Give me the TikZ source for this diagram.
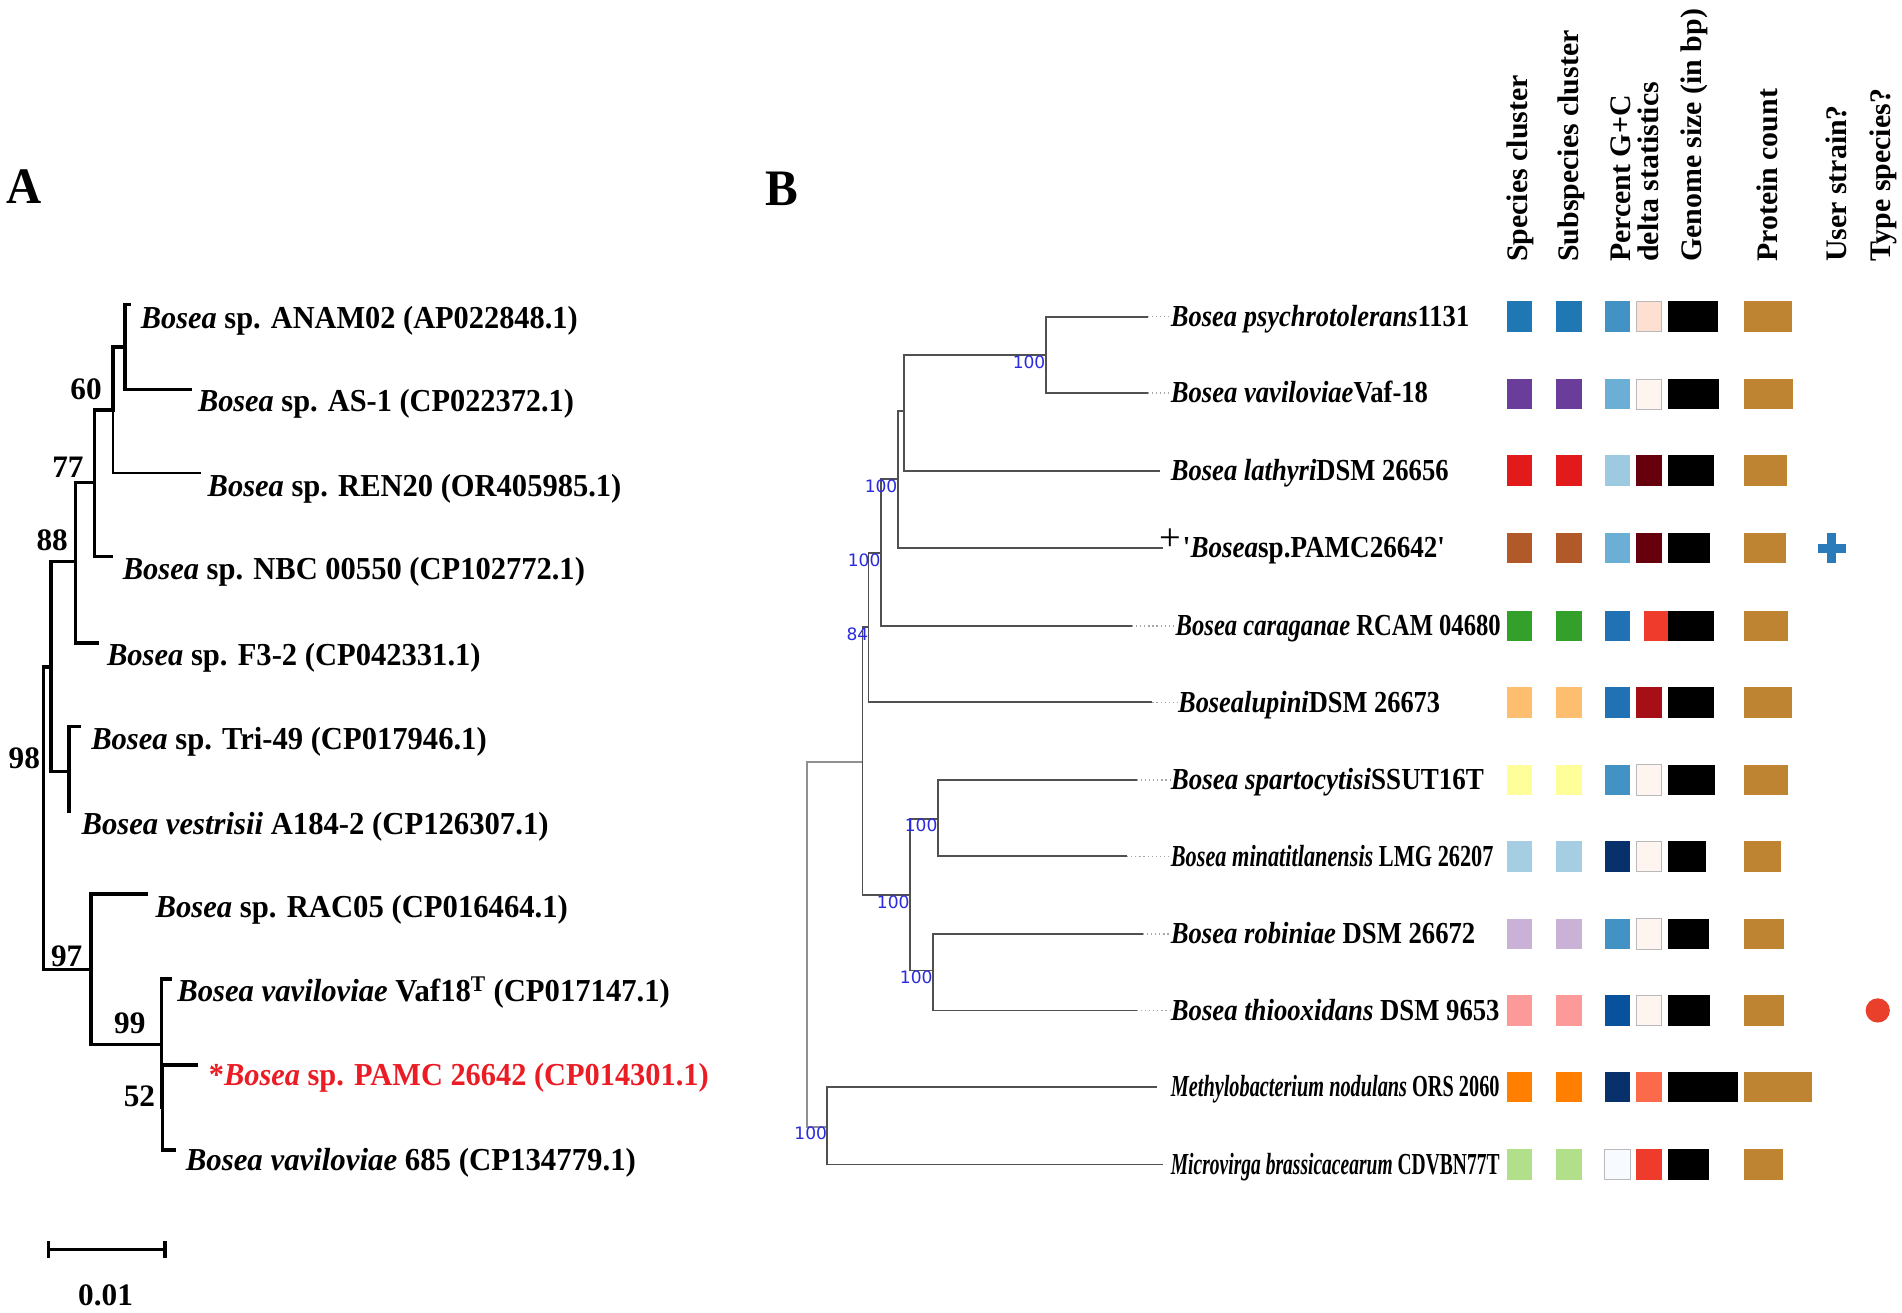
\documentclass[tikz,border=0pt]{standalone}
\usepackage{fontspec}
\setmainfont{Liberation Serif}
\newfontfamily\bootfont{DejaVu Sans}
\usepackage{graphicx}
\newlength\pxu
\setlength\pxu{0.03cm}
\newcommand\fitw[2]{\resizebox{#1\pxu}{\height}{#2}}
\definecolor{pamcred}{HTML}{EB1C24}
\definecolor{bootblue}{HTML}{2A2AE0}
\definecolor{treegray}{HTML}{505050}
\definecolor{rootgray}{HTML}{909090}
\definecolor{protein}{HTML}{BE8431}
\definecolor{plusblue}{HTML}{2B7BBA}
\definecolor{dotred}{HTML}{E8402A}
\definecolor{sp1}{HTML}{1F78B4}\definecolor{sp2}{HTML}{6A3D9A}\definecolor{sp3}{HTML}{E31A1C}
\definecolor{sp4}{HTML}{B15928}\definecolor{sp5}{HTML}{33A02C}\definecolor{sp6}{HTML}{FDBF6F}
\definecolor{sp7}{HTML}{FFFF99}\definecolor{sp8}{HTML}{A6CEE3}\definecolor{sp9}{HTML}{CAB2D6}
\definecolor{sp10}{HTML}{FB9A99}\definecolor{sp11}{HTML}{FF7F00}\definecolor{sp12}{HTML}{B2DF8A}
\definecolor{gcA}{HTML}{4292C6}\definecolor{gcB}{HTML}{6BAED6}\definecolor{gcC}{HTML}{9ECAE1}
\definecolor{gcD}{HTML}{2171B5}\definecolor{gcE}{HTML}{08306B}\definecolor{gcF}{HTML}{08519C}
\definecolor{gcG}{HTML}{F7FBFF}
\definecolor{dlA}{HTML}{FEE0D2}\definecolor{dlB}{HTML}{FFF5F0}\definecolor{dlC}{HTML}{67000D}
\definecolor{dlD}{HTML}{EF3B2C}\definecolor{dlE}{HTML}{A50F15}\definecolor{dlF}{HTML}{FB6A4A}
\newcommand\cbox[4]{\fill[#1] (#2,#4-12.5) rectangle (#3,#4+12.5);}
\newcommand\cboxb[4]{\filldraw[fill=#1,draw=gray!55,line width=0.8pt] (#2,#4-12.5) rectangle (#3,#4+12.5);}
\newcommand\rowboxes[7]{%
  \cbox{#2}{1242}{1263}{#1}\cbox{#2}{1283}{1304}{#1}%
  \cbox{#3}{1323}{1344}{#1}%
  \cbox{black}{1375}{#5}{#1}\cbox{protein}{1438}{#6}{#1}}
\begin{document}
\begin{tikzpicture}[x=0.03cm,y=-0.03cm,
  treeA/.style={line width=2.4pt,line join=miter,line cap=rect},
  treeB/.style={line width=1.3pt,draw=treegray},
  labA/.style={font=\fontsize{22.5}{26}\selectfont\bfseries,inner sep=0pt,anchor=base west},
  labB/.style={font=\fontsize{21.5}{25}\selectfont\bfseries,inner sep=0pt,anchor=base west},
  bootA/.style={font=\fontsize{22}{26}\selectfont\bfseries,inner sep=0pt},
  bootB/.style={font=\fontsize{12}{14}\selectfont\bootfont,text=bootblue,inner sep=0pt,anchor=north east},
  hdr/.style={font=\fontsize{21}{25}\selectfont\bfseries,inner sep=0pt,rotate=90,anchor=west},
  panel/.style={font=\fontsize{36}{40}\selectfont\bfseries,inner sep=0pt,anchor=base west},
  leader/.style={draw=gray!70,dotted,line width=0.9pt}]
\fill[white] (0,0) rectangle (1568,1082);
\useasboundingbox (0,0) rectangle (1568,1082);

% ---------------- Panel A ----------------
\node[panel] (pA) at (5,168) {\fitw{29}{A}};

\coordinate (tANAM) at (107,251);
\coordinate (tAS1) at (157,321);
\coordinate (nA1) at (103,286);
\coordinate (tREN) at (165,390);
\coordinate (nA2) at (93,338);
\coordinate (tNBC) at (92,459);
\coordinate (nA3) at (78,398);
\coordinate (tF32) at (80,530);
\coordinate (nA4) at (62,463);
\coordinate (tTri) at (65,599);
\coordinate (tVes) at (57,669);
\coordinate (nTri) at (57,636);
\coordinate (nA5) at (42,550);
\coordinate (tRAC) at (121,737);
\coordinate (tVaf) at (140,807);
\coordinate (tPAMC) at (162,878);
\coordinate (t685) at (144,948);
\coordinate (nA52) at (134,913);
\coordinate (nA99) at (133,861);
\coordinate (nA97) at (75,799);
\coordinate (nA0) at (36,700);

\draw[treeA] (tANAM) -| (nA1) |- (tAS1);
\draw[treeA] (nA1) -| (nA2);
\draw[treeA,line width=1.7pt] (nA2) |- (tREN);
\draw[treeA] (nA2) -| (nA3) |- (tNBC);
\draw[treeA] (nA3) -| (nA4) |- (tF32);
\draw[treeA] (nA4) -| (nA5) |- (nTri);
\draw[treeA] (tTri) -| (nTri) |- (tVes);
\draw[treeA] (nA5) -| (nA0) |- (nA97);
\draw[treeA] (tRAC) -| (nA97) |- (nA99);
\draw[treeA] (tVaf) -| (nA99) |- (nA52);
\draw[treeA] (tPAMC) -| (nA52) |- (t685);

\node[bootA] (bA60) at (71,321) {60};
\node[bootA] (bA77) at (56,385) {77};
\node[bootA] (bA88) at (43,445) {88};
\node[bootA] (bA98) at (20,625) {98};
\node[bootA] (bA97) at (55,788) {97};
\node[bootA] (bA99) at (107,844) {99};
\node[bootA] (bA52) at (115,904) {52};

\node[labA] (aANAM) at (116,271) {\fitw{360}{\textit{Bosea} sp. ANAM02 (AP022848.1)}};
\node[labA] (aAS1) at (163,339) {\fitw{310}{\textit{Bosea} sp. AS-1 (CP022372.1)}};
\node[labA] (aREN) at (171,409) {\fitw{341}{\textit{Bosea} sp. REN20 (OR405985.1)}};
\node[labA] (aNBC) at (101,478) {\fitw{381}{\textit{Bosea} sp. NBC 00550 (CP102772.1)}};
\node[labA] (aF32) at (88,549) {\fitw{308}{\textit{Bosea} sp. F3-2 (CP042331.1)}};
\node[labA] (aTri) at (75,618) {\fitw{326}{\textit{Bosea} sp. Tri-49 (CP017946.1)}};
\node[labA] (aVes) at (67,688) {\fitw{385}{\textit{Bosea vestrisii} A184-2 (CP126307.1)}};
\node[labA] (aRAC) at (128,756) {\fitw{340}{\textit{Bosea} sp. RAC05 (CP016464.1)}};
\node[labA] (aVaf) at (146,826) {\fitw{406}{\textit{Bosea vaviloviae} Vaf18\textsuperscript{T} (CP017147.1)}};
\node[labA,text=pamcred] (aPAMC) at (172,895) {\fitw{412}{*\textit{Bosea} sp. PAMC 26642 (CP014301.1)}};
\node[labA] (a685) at (153,965) {\fitw{371}{\textit{Bosea vaviloviae} 685 (CP134779.1)}};

\coordinate (sb1) at (40,1030);
\coordinate (sb2) at (136,1030);
\draw[treeA,line cap=butt] (sb1) -- (sb2);
\draw[treeA,line cap=butt] ([yshift=0.2cm]sb1) -- ([yshift=-0.2cm]sb1);
\draw[treeA,line cap=butt] ([yshift=0.2cm]sb2) -- ([yshift=-0.2cm]sb2);
\node[bootA] (sbl) at (87,1068) {0.01};

% ---------------- Panel B ----------------
\node[panel] (pB) at (631,169) {\fitw{27}{B}};

\node[hdr] (h1) at (1253,216) {Species cluster};
\node[hdr] (h2) at (1295,216) {Subspecies cluster};
\node[hdr] (h3) at (1336,216) {Percent G+C};
\node[hdr] (h4) at (1359,216) {delta statistics};
\node[hdr] (h5) at (1397,216) {Genome size (in bp)};
\node[hdr] (h6) at (1457,216) {Protein count};
\node[hdr] (h7) at (1514,216) {User strain?};
\node[hdr] (h8) at (1553,216) {Type species?};

\coordinate (tPsy) at (946,261);
\coordinate (tVav) at (946,324);
\coordinate (nB1) at (862,293);
\coordinate (tLat) at (956,388);
\coordinate (nB2) at (745,339);
\coordinate (tPAMCb) at (959,452);
\coordinate (nB3) at (740,395);
\coordinate (tCar) at (933,516);
\coordinate (nB4) at (726,456);
\coordinate (tLup) at (950,579);
\coordinate (nB5) at (716,517);
\coordinate (tSpa) at (937,643);
\coordinate (tMin) at (929,706);
\coordinate (nB8) at (773,675);
\coordinate (tRob) at (942,770);
\coordinate (tThi) at (937,833);
\coordinate (nB9) at (769,800);
\coordinate (nB7) at (750,738);
\coordinate (nB6) at (711,628);
\coordinate (tMet) at (954,896);
\coordinate (tMic) at (959,960);
\coordinate (nB10) at (682,929);
\coordinate (nB0) at (665,780);

\draw[treeB] (tPsy) -| (nB1) |- (tVav);
\draw[treeB] (nB1) -| (nB2) |- (tLat);
\draw[treeB] (nB2) -| (nB3) |- (tPAMCb);
\draw[treeB] (nB3) -| (nB4) |- (tCar);
\draw[treeB] (nB4) -| (nB5) |- (tLup);
\draw[treeB] (nB5) -| (nB6) |- (nB7);
\draw[treeB] (nB8) -| (nB7) |- (nB9);
\draw[treeB] (tSpa) -| (nB8) |- (tMin);
\draw[treeB] (tRob) -| (nB9) |- (tThi);
\draw[treeB,draw=rootgray] (nB6) -| (nB0) |- (nB10);
\draw[treeB] (tMet) -| (nB10) |- (tMic);

\node[bootB] (bB1) at (nB1) {100};
\node[bootB] (bB3) at (nB3) {100};
\node[bootB] (bB4) at (nB4) {100};
\node[bootB] (bB5) at (nB5) {84};
\node[bootB] (bB7) at (nB7) {100};
\node[bootB] (bB8) at (nB8) {100};
\node[bootB] (bB9) at (nB9) {100};
\node[bootB] (bB10) at (nB10) {100};

\node[labB] (b1) at (965,269) {\fitw{246}{\textit{Bosea psychrotolerans}1131}};
\node[labB] (b2) at (965,332) {\fitw{212}{\textit{Bosea vaviloviae}Vaf-18}};
\node[labB] (b3) at (965,396) {\fitw{229}{\textit{Bosea lathyri}DSM 26656}};
\node[inner sep=0pt,font=\fontsize{27}{30}\selectfont] (pl4) at (965,445) {+};
\node[labB] (b4) at (975,460) {\fitw{216}{\textquotesingle\textit{Bosea}sp.PAMC26642\textquotesingle}};
\node[labB] (b5) at (969,524) {\fitw{268}{\textit{Bosea caraganae} RCAM 04680}};
\node[labB] (b6) at (971,587) {\fitw{216}{\textit{Bosealupini}DSM 26673}};
\node[labB] (b7) at (965,651) {\fitw{258}{\textit{Bosea spartocytisi}SSUT16T}};
\node[labB] (b8) at (965,714) {\fitw{266}{\textit{Bosea minatitlanensis} LMG 26207}};
\node[labB] (b9) at (965,778) {\fitw{251}{\textit{Bosea robiniae} DSM 26672}};
\node[labB] (b10) at (965,841) {\fitw{271}{\textit{Bosea thiooxidans} DSM 9653}};
\node[labB] (b11) at (965,904) {\fitw{271}{\textit{Methylobacterium nodulans} ORS 2060}};
\node[labB] (b12) at (965,968) {\fitw{271}{\textit{Microvirga brassicacearum} CDVBN77T}};

\draw[leader] (tPsy) -- (tPsy -| b1.west);
\draw[leader] (tVav) -- (tVav -| b2.west);
\draw[leader] (tCar) -- (tCar -| b5.west);
\draw[leader] (tLup) -- (tLup -| b6.west);
\draw[leader] (tSpa) -- (tSpa -| b7.west);
\draw[leader] (tMin) -- (tMin -| b8.west);
\draw[leader] (tRob) -- (tRob -| b9.west);
\draw[leader] (tThi) -- (tThi -| b10.west);

% colour strips
\rowboxes{261}{sp1}{gcA}{}{1416}{1477}{}
\cboxb{dlA}{1349}{1370}{261}
\rowboxes{325}{sp2}{gcB}{}{1417}{1478}{}
\cboxb{dlB}{1349}{1370}{325}
\rowboxes{388}{sp3}{gcC}{}{1413}{1473}{}
\cbox{dlC}{1349}{1370}{388}
\rowboxes{452}{sp4}{gcB}{}{1410}{1472}{}
\cbox{dlC}{1349}{1370}{452}
\rowboxes{516}{sp5}{gcD}{}{1413}{1474}{}
\cbox{dlD}{1355}{1375}{516}
\rowboxes{579}{sp6}{gcD}{}{1413}{1477}{}
\cbox{dlE}{1349}{1370}{579}
\rowboxes{643}{sp7}{gcA}{}{1414}{1474}{}
\cboxb{dlB}{1349}{1370}{643}
\rowboxes{706}{sp8}{gcE}{}{1406}{1468}{}
\cboxb{dlB}{1349}{1370}{706}
\rowboxes{770}{sp9}{gcA}{}{1409}{1471}{}
\cboxb{dlB}{1349}{1370}{770}
\rowboxes{833}{sp10}{gcF}{}{1410}{1471}{}
\cboxb{dlB}{1349}{1370}{833}
\rowboxes{896}{sp11}{gcE}{}{1433}{1494}{}
\cbox{dlF}{1349}{1370}{896}
\rowboxes{960}{sp12}{gcG}{}{1409}{1470}{}
\cboxb{gcG}{1323}{1344}{960}
\cbox{dlD}{1349}{1370}{960}

% user strain / type species marks
\fill[plusblue] (1498.5,448.5) rectangle (1521.5,455.5);
\fill[plusblue] (1506.5,439.5) rectangle (1513.5,464.5);
\fill[dotred] (1548,833) circle (10);
\end{tikzpicture}
\end{document}
